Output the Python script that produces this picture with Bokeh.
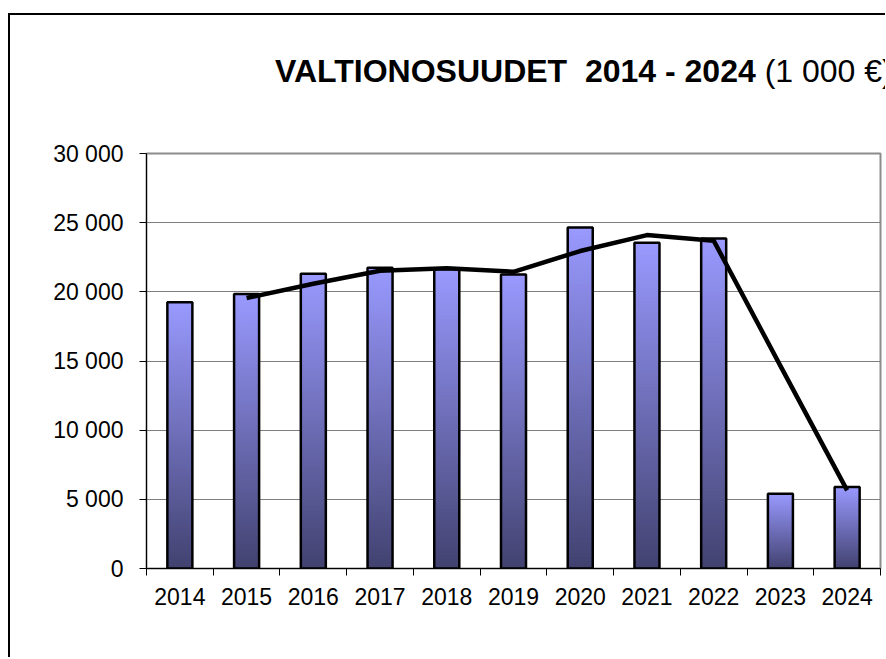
from bokeh.plotting import figure
from bokeh.models import FixedTicker, Range1d, Div
from bokeh.layouts import column
from bokeh.embed import file_html
from bokeh.resources import INLINE

years = ["2014", "2015", "2016", "2017", "2018", "2019", "2020", "2021", "2022", "2023", "2024"]
valtionosuudet = [19250, 19850, 21300, 21750, 21650, 21250, 24650, 23550, 23850, 5400, 5900]
moving_avg = [float("nan"), 19550, 20580, 21530, 21700, 21450, 22950, 24100, 23700, 14650, 5650]
y_ticks = [0, 5000, 10000, 15000, 20000, 25000, 30000]
y_tick_labels = ["0", "5 000", "10 000", "15 000", "20 000", "25 000", "30 000"]
title_bold = "VALTIONOSUUDET&nbsp;&nbsp;2014 - 2024"
title_unit = "(1 000 €)"

FONT = "Liberation Sans"
xs = list(range(len(years)))

W = 875
TITLE_H = 90

p = figure(width=W, height=552, output_backend="svg", toolbar_location=None,
           x_range=Range1d(-0.5, len(years) - 0.5), y_range=Range1d(0, 30000),
           min_border_left=136, min_border_right=5, min_border_top=48, min_border_bottom=89,
           background_fill_color="white", border_fill_color="white")
p.margin = 0

p.outline_line_color = "#8c8c8c"
p.outline_line_width = 2

# gradient bars (overlapping slices, dark at bottom, light at top)
N = 90
top_c = (153, 153, 255)
bot_c = (66, 66, 112)
L, R, B, T, C = [], [], [], [], []
w = 0.375
for k in range(N):
    t = (k + 0.5) / N
    col = tuple(int(round(bot_c[j] + (top_c[j] - bot_c[j]) * t)) for j in range(3))
    for i, v in zip(xs, valtionosuudet):
        L.append(i - w / 2)
        R.append(i + w / 2)
        B.append(v * k / N)
        T.append(v)
        C.append("#%02x%02x%02x" % col)
p.quad(left=L, right=R, bottom=B, top=T, fill_color=C, line_color=None)
p.vbar(x=xs, top=valtionosuudet, width=w, bottom=0, fill_alpha=0,
       line_color="black", line_width=2.5)

p.line(x=xs, y=moving_avg, line_color="black", line_width=4.5, line_join="round")

# grid
p.xgrid.visible = False
p.ygrid.ticker = FixedTicker(ticks=y_ticks)
p.ygrid.grid_line_color = "#7f7f7f"
p.ygrid.grid_line_width = 1

# y axis
ya = p.yaxis[0]
ya.ticker = FixedTicker(ticks=y_ticks)
ya.major_label_overrides = {t: s for t, s in zip(y_ticks, y_tick_labels)}
ya.axis_line_color = "black"
ya.axis_line_width = 1
ya.major_tick_out = 7
ya.major_tick_in = 0
ya.minor_tick_line_color = None
ya.major_label_standoff = 16
ya.major_label_text_font = FONT
ya.major_label_text_font_size = "23px"
ya.major_label_text_color = "black"

# x axis
xa = p.xaxis[0]
xa.ticker = FixedTicker(ticks=xs, minor_ticks=[i - 0.5 for i in range(len(years) + 1)])
xa.major_label_overrides = {i: y for i, y in zip(xs, years)}
xa.axis_line_color = "black"
xa.axis_line_width = 1
xa.major_tick_out = 0
xa.major_tick_in = 0
xa.major_tick_line_color = None
xa.minor_tick_out = 7
xa.minor_tick_in = 0
xa.minor_tick_line_color = "black"
xa.major_label_standoff = 12
xa.major_label_text_font = FONT
xa.major_label_text_font_size = "23px"
xa.major_label_text_color = "black"

# title
title_html = (
    f'<div style="padding-left:265px; padding-top:38px; font-family:\'{FONT}\'; '
    f'font-size:32px; line-height:36px; white-space:nowrap; color:black;">'
    f'<b>{title_bold}</b> {title_unit}</div>'
)
title = Div(text=title_html, width=W, height=TITLE_H, margin=0,
            styles={"overflow": "hidden", "background": "white"})

layout = column(title, p, spacing=0)
layout.margin = (13, 0, 0, 8)
layout.styles = {"border-left": "2px solid black", "border-top": "2px solid black"}

open("out.html", "w").write(file_html(layout, INLINE))
